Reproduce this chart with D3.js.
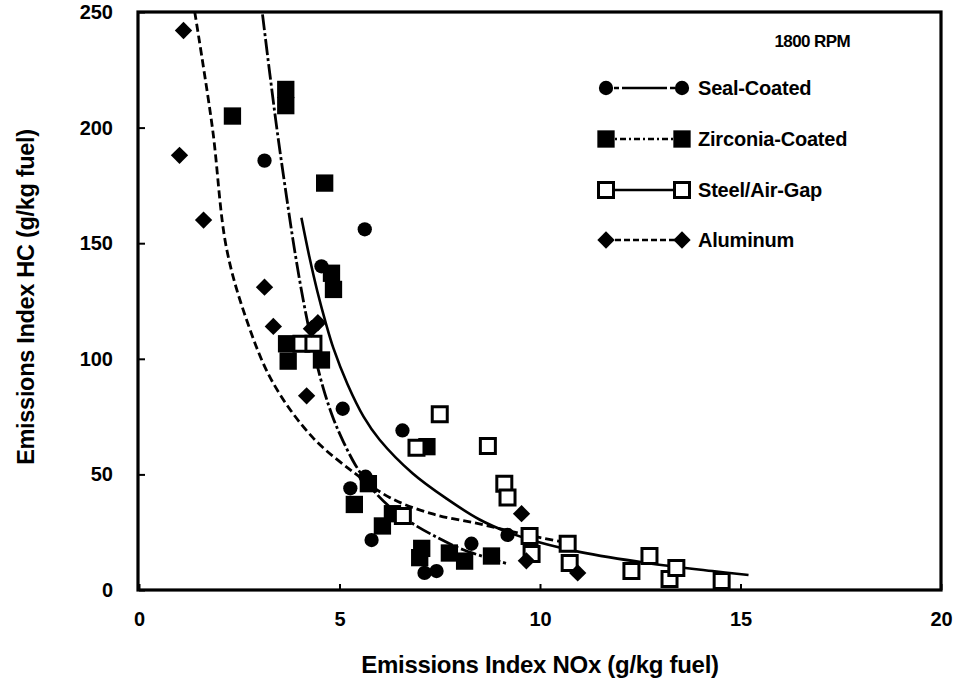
<!DOCTYPE html>
<html><head><meta charset="utf-8">
<script src="https://cdn.jsdelivr.net/npm/d3@7"></script>
<style>
body{margin:0;background:#fff}
text{font-family:"Liberation Sans",Arial,Helvetica,sans-serif;font-weight:bold;fill:#000}
</style>
</head><body>
<svg id="c" width="959" height="681"></svg>
<script>
// ---- data ----
const xTicks = [0, 5, 10, 15, 20];
const yTicks = [0, 50, 100, 150, 200, 250];
const seriesNames = ["Seal-Coated", "Zirconia-Coated", "Steel/Air-Gap", "Aluminum"];

const sealX = [3.13, 5.63, 4.55, 5.08, 6.57, 5.65, 5.27, 5.80, 9.19, 8.29, 7.12, 7.42];
const sealY = [185.7, 156, 140, 78.4, 69, 49, 44, 21.6, 23.8, 20, 7.4, 8.2];

const zircX = [2.33, 3.66, 3.66, 4.63, 4.80, 4.85, 3.68, 3.72, 4.55, 7.18, 5.72, 5.37, 6.32, 6.07, 7.05, 7.00, 7.74, 8.12, 8.79];
const zircY = [205, 216.5, 209.5, 176, 137, 130, 106.5, 99, 99.5, 62, 46, 37, 33, 27.7, 18, 14, 16, 12.5, 14.7];

const steelX = [4.05, 4.35, 7.50, 6.92, 8.70, 9.11, 9.19, 6.58, 9.74, 9.79, 10.69, 10.74, 12.28, 12.73, 13.23, 13.40, 14.53];
const steelY = [106.5, 106.5, 76, 61.5, 62.3, 46, 40, 32, 23.4, 15.6, 20, 11.7, 8.2, 14.7, 4.8, 9.5, 3.9];

const aluX = [1.11, 1.01, 1.61, 3.13, 3.35, 4.46, 4.30, 4.18, 9.54, 9.66, 10.94];
const aluY = [242, 188, 160, 131, 114, 115.6, 113, 84, 33, 12.6, 7.4];

// fitted curves, points
const aluCurveX = [1.39, 1.83, 2.18, 2.68, 3.33, 4.33, 5.42, 6.25, 7.30, 8.49, 9.50, 10.50];
const aluCurveY = [250, 200, 148, 117, 90, 66, 50, 40, 33, 28.6, 24.5, 21];

const zircCurveX = [3.08, 3.25, 3.45, 3.68, 3.88, 4.10, 4.35, 4.60, 4.85, 5.10, 5.40, 5.80, 6.25, 6.80, 7.32, 8.07, 9.20];
const zircCurveY = [249, 225, 198, 170, 147, 125, 104, 87, 74, 64, 54, 44, 36, 29, 23.8, 17.5, 11.3];

const steelCurveX = [4.05, 4.25, 4.45, 4.65, 4.85, 5.20, 5.60, 6.00, 6.82, 7.67, 8.49, 9.20, 10.00, 10.98, 12.66, 14.30, 15.20];
const steelCurveY = [161, 144, 129, 116, 104.5, 89, 75, 65, 50.5, 39.5, 30.5, 25, 20.5, 16.5, 11.7, 8.2, 6.5];

// ---- drawing ----
const svg = d3.select("#c");
const W = 959, H = 681;
const x = d3.scaleLinear().domain([0, 20]).range([139, 941]);
const y = d3.scaleLinear().domain([0, 250]).range([590, 12]);

svg.append("rect").attr("width", W).attr("height", H).attr("fill", "#fff");

svg.append("defs").append("clipPath").attr("id", "clip")
  .append("rect").attr("x", x(0)).attr("y", y(250)).attr("width", x(20) - x(0)).attr("height", y(0) - y(250));

// axes
const xAxis = svg.append("g").attr("transform", `translate(0,${y(0)})`)
  .call(d3.axisBottom(x).tickValues(xTicks).tickFormat(d3.format("d")).tickSizeInner(-6).tickSizeOuter(0).tickPadding(22));
const yAxis = svg.append("g").attr("transform", `translate(${x(0)},0)`)
  .call(d3.axisLeft(y).tickValues(yTicks).tickFormat(d3.format("d")).tickSizeInner(-6).tickSizeOuter(0).tickPadding(26));
[xAxis, yAxis].forEach(g => {
  g.select(".domain").remove();
  g.selectAll("line").attr("stroke", "#000").attr("stroke-width", 2);
  g.selectAll("text").attr("font-size", 20).attr("font-family", "Liberation Sans, Arial, sans-serif").attr("font-weight", "bold").attr("fill", "#000");
});

// frame
svg.append("rect")
  .attr("x", x(0) - 1).attr("y", y(250))
  .attr("width", x(20) - x(0) + 1).attr("height", y(0) - y(250))
  .attr("fill", "none").attr("stroke", "#000").attr("stroke-width", 3.2);

// axis titles
svg.append("text").attr("x", 540).attr("y", 673).attr("text-anchor", "middle")
  .attr("font-size", 24).attr("letter-spacing", -0.3)
  .text("Emissions Index NOx (g/kg fuel)");
svg.append("text").attr("transform", "translate(34,297) rotate(-90)").attr("text-anchor", "middle")
  .attr("font-size", 23.5).attr("letter-spacing", -0.3)
  .text("Emissions Index HC (g/kg fuel)");

// curves
const plot = svg.append("g").attr("clip-path", "url(#clip)");
const line = d3.line().x(d => x(d[0])).y(d => y(d[1])).curve(d3.curveCatmullRom.alpha(0.5));
const curves = [
  {xs: aluCurveX, ys: aluCurveY, dash: "8,4", w: 2.8},
  {xs: zircCurveX, ys: zircCurveY, dash: "16,3,3,3", w: 2.8},
  {xs: steelCurveX, ys: steelCurveY, dash: null, w: 2.6}
];
curves.forEach(c => {
  plot.append("path").datum(d3.zip(c.xs, c.ys))
    .attr("d", line).attr("fill", "none").attr("stroke", "#000")
    .attr("stroke-width", c.w).attr("stroke-dasharray", c.dash);
});

// markers
function marker(g, type, cx, cy) {
  if (type === 0) {
    g.append("path").attr("d", d3.symbol(d3.symbolCircle, 160)())
      .attr("transform", `translate(${cx},${cy})`).attr("fill", "#000");
  } else if (type === 1) {
    g.append("path").attr("d", d3.symbol(d3.symbolSquare, 300)())
      .attr("transform", `translate(${cx},${cy})`).attr("fill", "#000");
  } else if (type === 2) {
    g.append("path").attr("d", d3.symbol(d3.symbolSquare, 225)())
      .attr("transform", `translate(${cx},${cy})`).attr("fill", "#fff")
      .attr("stroke", "#000").attr("stroke-width", 3);
  } else {
    g.append("path").attr("d", d3.symbol(d3.symbolSquare, 150)())
      .attr("transform", `translate(${cx},${cy}) rotate(45)`).attr("fill", "#000");
  }
}
const sets = [[sealX, sealY], [zircX, zircY], [steelX, steelY], [aluX, aluY]];
const mg = svg.append("g");
sets.forEach((s, i) => {
  d3.zip(s[0], s[1]).forEach(p => marker(mg, i, x(p[0]), y(p[1])));
});

// legend
svg.append("text").attr("x", 850).attr("y", 47).attr("text-anchor", "end")
  .attr("font-size", 17).attr("letter-spacing", -0.6).text("1800 RPM");
const legRows = [88, 139, 190, 240];
const legDash = ["5,3,5,3,40,0", "6,3,2,3", null, "6,3"];
const lg = svg.append("g");
seriesNames.forEach((n, i) => {
  const ly = legRows[i];
  lg.append("line").attr("x1", 606).attr("x2", 682).attr("y1", ly).attr("y2", ly)
    .attr("stroke", "#000").attr("stroke-width", 2.4).attr("stroke-dasharray", legDash[i]);
  marker(lg, i, 606, ly);
  marker(lg, i, 682, ly);
  lg.append("text").attr("x", 698).attr("y", ly + 7).attr("font-size", 20)
    .attr("letter-spacing", -0.2).text(n);
});
</script>
</body></html>
